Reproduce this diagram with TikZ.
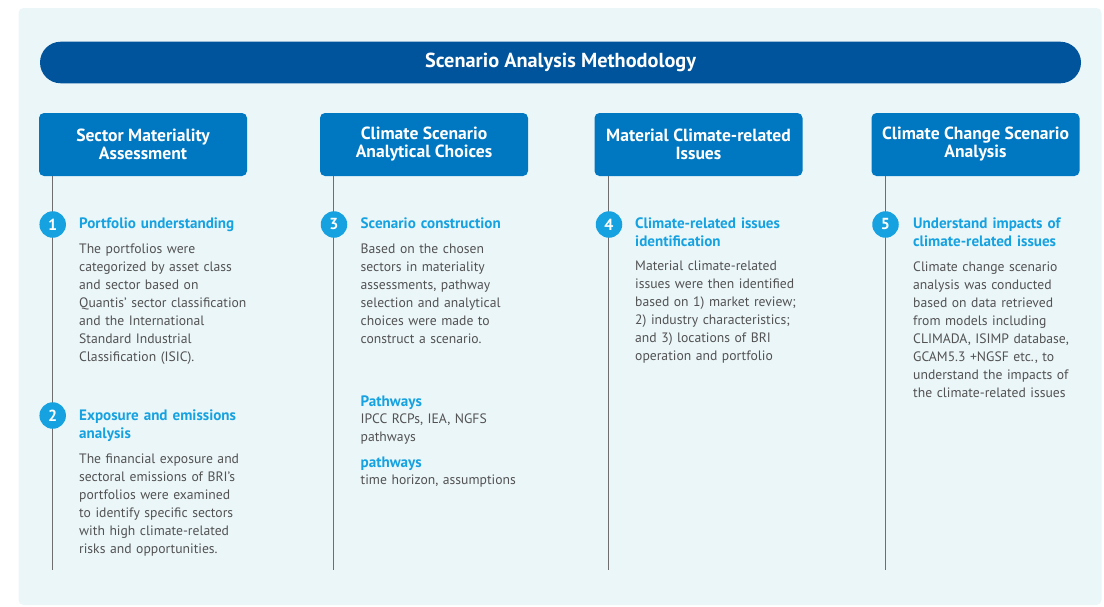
\documentclass[tikz,border=0pt]{standalone}
\usepackage{fontspec}
\setmainfont{PT Sans}
\setsansfont{PT Sans}
\usetikzlibrary{positioning}
\definecolor{MethodNavy}{HTML}{00549B}
\definecolor{MethodBlue}{HTML}{0077C1}
\definecolor{MethodCyan}{HTML}{16A2E0}
\definecolor{MethodGrey}{HTML}{525252}
\definecolor{MethodRule}{HTML}{6E6E6E}
\definecolor{MethodPaper}{HTML}{EBF6F9}
\tikzset{
  every node/.style={font=\sffamily, text=MethodGrey},
  panel/.style={fill=MethodPaper, rounded corners=5pt},
  titlebar/.style={fill=MethodNavy, rounded corners=20.8pt, minimum width=1041pt, minimum height=41.6pt, inner sep=0pt, text=white, font=\sffamily\bfseries\fontsize{20.3}{22}\selectfont},
  stagebox/.style={fill=MethodBlue, rounded corners=5pt, minimum width=208pt, minimum height=63pt, inner sep=0pt, align=center, text=white, font=\sffamily\bfseries\fontsize{17.6}{18}\selectfont},
  rail/.style={draw=MethodRule, line width=1.2pt},
  stepdot/.style={circle, fill=MethodCyan, minimum size=26.5pt, inner sep=0pt, text=white, font=\sffamily\bfseries\fontsize{16}{18}\selectfont},
  stephead/.style={anchor=base west, inner sep=0pt, text width=200pt, align=left, text=MethodCyan, font=\sffamily\bfseries\fontsize{15.1}{18}\selectfont},
  stepbody/.style={anchor=base west, inner sep=0pt, text width=200pt, align=left, text=MethodGrey, font=\sffamily\fontsize{13.65}{18}\selectfont},
}

\begin{document}
\begin{tikzpicture}[x=1pt,y=-1pt]
  \useasboundingbox (0,0) rectangle (1104,606);
  % Background panel and title
  \fill[panel] (18.5,8) rectangle (1101.5,605);
  \node[titlebar] (title) at (560.5,62.5) {Scenario Analysis Methodology};
  % Stage boxes with their rails
  \foreach \i/\x/\txt in {1/143/{Sector Materiality\\Assessment},
                          2/424/{Climate Scenario\\Analytical Choices},
                          3/698.5/{Material Climate-related\\Issues},
                          4/975.5/{Climate Change Scenario\\Analysis}}{
    \node[stagebox] (stage\i) at (\x,144.5) {\txt};
    \coordinate (rail\i) at ([xshift=14pt]stage\i.south west |- 0,570);
    \draw[rail] ([xshift=14pt]stage\i.south west) -- (rail\i);
  }
  % Numbered steps
  \node[stepdot] (dot1) at (52.7,224.5) {1};
  \node[stepdot] (dot2) at (52.7,415.5) {2};
  \node[stepdot] (dot3) at (334,224.5) {3};
  \node[stepdot] (dot4) at (609,224.5) {4};
  \node[stepdot] (dot5) at (885.5,224.5) {5};
  % Sector materiality
  \node[stephead] (head1) at (79,228) {Portfolio understanding};
  \node[stepbody] (body1) at (79,253) {The portfolios were\\categorized by asset class\\and sector based on\\Quantis' sector classification\\and the International\\Standard Industrial\\Classification (ISIC).};
  \node[stephead] (head2) at (79,420) {Exposure and emissions\\analysis};
  \node[stepbody] (body2) at (79,463) {The financial exposure and\\sectoral emissions of BRI's\\portfolios were examined\\to identify specific sectors\\with high climate-related\\risks and opportunities.};
  % Analytical choices
  \node[stephead] (head3) at (360.5,228) {Scenario construction};
  \node[stepbody] (body3) at (360.5,253) {Based on the chosen\\sectors in materiality\\assessments, pathway\\selection and analytical\\choices were made to\\construct a scenario.};
  \node[stephead] (path1) at (360.5,406) {Pathways};
  \node[stepbody] (pathtext1) at (360.5,423) {IPCC RCPs, IEA, NGFS\\pathways};
  \node[stephead] (path2) at (360.5,467) {pathways};
  \node[stepbody] (pathtext2) at (360.5,484) {time horizon, assumptions};
  % Climate-related issues
  \node[stephead] (head4) at (635,228) {Climate-related issues\\identification};
  \node[stepbody] (body4) at (635,270) {Material climate-related\\issues were then identified\\based on 1) market review;\\2) industry characteristics;\\and 3) locations of BRI\\operation and portfolio};
  % Scenario analysis
  \node[stephead] (head5) at (913,228) {Understand impacts of\\climate-related issues};
  \node[stepbody] (body5) at (913,271) {Climate change scenario\\analysis was conducted\\based on data retrieved\\from models including\\CLIMADA, ISIMP database,\\GCAM5.3 +NGSF etc., to\\understand the impacts of\\the climate-related issues};
\end{tikzpicture}
\end{document}
